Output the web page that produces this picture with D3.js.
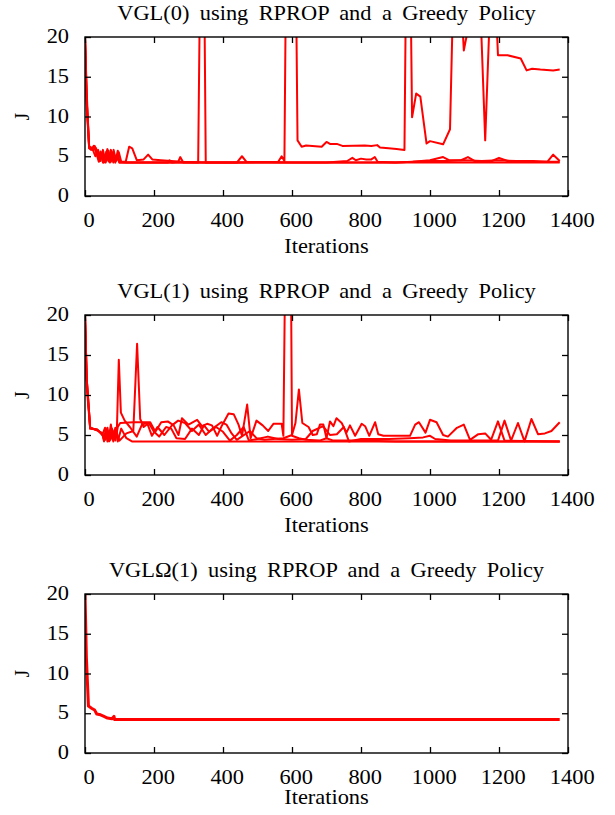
<!DOCTYPE html>
<html>
<head>
<meta charset="utf-8">
<script src="https://cdn.jsdelivr.net/npm/d3@7"></script>
<style>
  body { margin: 0; background: #fff; }
  svg text { font-family: "Liberation Serif", "Times New Roman", serif; fill: #000; }
</style>
</head>
<body>
<svg id="chart" width="615" height="815"></svg>
<script>
// tick values
const xTicks = [0, 200, 400, 600, 800, 1000, 1200, 1400];
const yTicks = [0, 5, 10, 15, 20];
const titles = [
  "VGL(0) using RPROP and a Greedy Policy",
  "VGL(1) using RPROP and a Greedy Policy",
  "VGL\u03A9(1) using RPROP and a Greedy Policy"
];

// VGL(0) runs, [iteration, J]
const vgl0_a = [[0,20],[5,11],[12,6.2],[20,5.9],[28,6.3],[35,5.6],[42,4.5],[50,5.5],[56,4.3],[62,5.6],[70,4.3],[78,5.5],[85,4.4],[92,5.2],[100,4.3],[120,4.2],[200,4.2],[300,4.2],[328,4.2],[333,25],[346,25],[350,4.2],[440,4.2],[455,5.0],[468,4.3],[600,4.2],[800,4.2],[1000,4.2],[1200,4.2],[1376,4.2]];
const vgl0_b = [[0,20],[5,12],[12,6.0],[20,6.1],[30,5.0],[38,5.8],[45,4.4],[52,5.8],[60,4.2],[68,5.7],[75,4.3],[83,5.8],[90,4.4],[98,5.5],[105,4.3],[118,4.3],[128,6.2],[137,6.0],[150,4.5],[170,4.6],[183,5.2],[195,4.6],[220,4.5],[250,4.4],[280,4.3],[350,4.2],[440,4.2],[560,4.3],[570,5.0],[578,4.4],[582,25],[612,25],[616,7.0],[628,6.2],[641,6.35],[686,6.2],[700,6.8],[710,6.55],[730,6.55],[746,6.3],[811,6.35],[830,6.3],[847,6.4],[855,6.1],[880,6.0],[903,5.9],[926,5.8],[930,25],[944,25],[948,9.9],[960,12.9],[972,12.5],[990,6.6],[1000,6.9],[1038,6.5],[1058,8.4],[1067,25],[1090,25],[1098,18.3],[1110,21],[1145,25],[1160,7.0],[1175,25],[1190,25],[1197,17.7],[1225,17.7],[1263,17.3],[1280,15.8],[1296,16.0],[1320,15.9],[1357,15.8],[1376,15.9]];
const vgl0_c = [[0,20],[5,13],[12,6.0],[18,5.8],[25,6.3],[32,5.5],[40,4.3],[48,5.2],[55,4.2],[65,5.9],[72,4.2],[80,5.4],[88,4.2],[95,5.7],[100,4.2],[130,4.2],[240,4.2],[245,4.5],[252,4.2],[270,4.3],[276,4.9],[285,4.2],[500,4.2],[700,4.2],[760,4.4],[775,4.8],[785,4.5],[800,4.7],[815,4.6],[830,4.6],[840,4.9],[848,4.3],[900,4.2],[950,4.3],[1000,4.5],[1038,4.9],[1055,4.5],[1090,4.5],[1110,4.9],[1130,4.4],[1180,4.4],[1200,4.8],[1225,4.4],[1300,4.4],[1340,4.3],[1357,5.2],[1376,4.4]];
const vgl0_d = [[0,20],[5,12],[12,6.3],[22,5.8],[32,6.0],[38,4.8],[45,5.6],[52,4.2],[60,5.3],[68,4.4],[75,5.8],[82,4.2],[90,5.0],[100,4.2],[500,4.2],[900,4.2],[950,4.3],[1000,4.4],[1050,4.4],[1100,4.5],[1150,4.4],[1200,4.5],[1250,4.4],[1300,4.3],[1376,4.3]];

// VGL(1) runs
const vgl1_a = [[0,20],[5,12],[15,5.9],[35,5.6],[50,5.2],[58,4.4],[65,5.9],[72,4.3],[80,5.6],[88,4.3],[95,6.0],[102,6.5],[140,6.6],[189,6.6],[204,5.4],[221,6.6],[240,6.7],[257,6.2],[271,5.0],[281,7.1],[300,6.3],[325,6.9],[339,6.1],[354,6.4],[368,6.2],[383,4.9],[397,6.2],[416,7.7],[431,7.6],[445,6.3],[455,4.9],[470,8.8],[480,4.6],[497,6.8],[515,6.2],[531,5.5],[546,6.4],[570,6.4],[575,4.9],[580,25],[597,25],[600,4.9],[620,4.6],[640,4.4],[680,4.3],[700,4.6],[720,4.3],[760,4.3],[800,4.3],[900,4.2],[1376,4.2]];
const vgl1_b = [[0,20],[5,11],[15,5.8],[35,5.7],[50,5.1],[56,4.3],[62,5.5],[70,4.2],[78,5.8],[85,4.5],[92,5.0],[98,14.4],[104,7.8],[115,6.8],[130,6.0],[150,4.8],[165,6.3],[180,6.5],[194,4.9],[210,6.0],[230,5.0],[252,6.2],[270,6.8],[290,6.5],[310,5.5],[330,6.3],[350,5.0],[370,5.8],[395,6.6],[410,6.3],[425,5.2],[440,4.4],[478,5.5],[497,4.6],[520,4.4],[545,4.5],[575,4.6],[600,5.0],[610,6.5],[620,10.7],[630,6.5],[648,6.0],[660,5.0],[672,5.1],[681,6.3],[691,6.3],[700,4.6],[710,6.7],[720,6.1],[729,7.1],[744,6.5],[758,5.3],[768,6.2],[783,4.9],[802,6.4],[812,6.1],[824,4.9],[841,6.6],[850,5.1],[865,4.9],[942,4.9],[957,6.3],[968,6.6],[987,5.3],[1000,6.9],[1019,6.6],[1038,5.0],[1052,4.8],[1078,5.9],[1098,6.3],[1116,4.4],[1140,5.1],[1160,5.2],[1177,4.4],[1197,6.7],[1216,4.3],[1376,4.2]];
const vgl1_c = [[0,20],[5,12],[15,5.9],[35,5.6],[50,5.2],[55,4.2],[60,5.8],[68,4.4],[75,6.3],[82,4.2],[90,5.5],[100,4.3],[120,5.2],[140,5.5],[151,16.4],[160,7.0],[170,6.0],[185,6.5],[200,5.4],[215,4.8],[235,6.0],[250,5.8],[265,4.6],[290,4.5],[310,5.8],[330,5.0],[345,6.2],[360,5.4],[380,6.0],[400,5.4],[420,4.3],[440,5.0],[460,6.0],[475,4.3],[500,4.5],[530,4.8],[560,4.5],[600,4.4],[640,4.5],[660,5.5],[690,6.1],[710,5.0],[730,5.1],[750,6.0],[765,4.2],[800,4.5],[880,4.5],[940,4.6],[980,4.7],[1000,4.9],[1015,4.5],[1060,4.3],[1197,4.3],[1216,6.8],[1235,4.3],[1255,6.5],[1274,4.2],[1294,7.0],[1313,5.1],[1333,5.2],[1352,5.5],[1376,6.6]];
const vgl1_d = [[0,20],[5,12],[15,5.8],[35,5.7],[50,5.0],[58,5.9],[65,4.2],[72,5.3],[80,4.4],[88,5.9],[95,4.2],[105,5.8],[120,4.6],[136,4.2],[600,4.2],[1000,4.2],[1376,4.2]];

// VGLΩ(1) runs
const vglw1_a = [[0,20],[4,12],[10,5.9],[20,5.6],[28,5.4],[34,4.9],[45,4.8],[55,4.6],[65,4.4],[78,4.3],[84,4.6],[86,4.2],[150,4.2],[600,4.2],[1000,4.2],[1376,4.2]];

const panels = [
  { title: titles[0], top: 37, bottom: 196, runs: [vgl0_d, vgl0_c, vgl0_a, vgl0_b], lw: 2, xlab: 57 },
  { title: titles[1], top: 315, bottom: 475, runs: [vgl1_d, vgl1_c, vgl1_b, vgl1_a], lw: 2, xlab: 57 },
  { title: titles[2], top: 594, bottom: 753, runs: [vglw1_a], lw: 3, xlab: 51 }
];

const svg = d3.select("#chart");
const left = 85, right = 568;
const stretch = 1.12;

const x = d3.scaleLinear().domain([0, 1400]).range([left, right]);

panels.forEach((p, i) => {
  const y = d3.scaleLinear().domain([0, 20]).range([p.bottom, p.top]);
  const g = svg.append("g");

  g.append("clipPath").attr("id", `clip${i}`)
    .append("rect")
    .attr("x", left).attr("y", p.top)
    .attr("width", right - left).attr("height", p.bottom - p.top);

  const line = d3.line().x(d => x(d[0])).y(d => y(d[1]));

  g.append("g").attr("clip-path", `url(#clip${i})`)
    .selectAll("path")
    .data(p.runs)
    .join("path")
    .attr("d", line)
    .attr("fill", "none")
    .attr("stroke", "#ff0000")
    .attr("stroke-width", p.lw)
    .attr("stroke-linejoin", "round");

  // axes, ticks pointing inward on all sides
  const bottomAxis = g.append("g").attr("transform", `translate(0,${p.bottom})`)
    .call(d3.axisBottom(x).tickValues(xTicks).tickFormat(d3.format("d")).tickSize(-6).tickSizeOuter(0));
  bottomAxis.selectAll("text")
    .attr("y", 31).attr("dy", 0)
    .attr("font-size", 20)
    .attr("transform", `scale(${stretch},1)`)
    .attr("x", 3.7 / stretch);

  g.append("g").attr("transform", `translate(0,${p.top})`)
    .call(d3.axisTop(x).tickValues(xTicks).tickSize(-6).tickSizeOuter(0).tickFormat(""));

  const leftAxis = g.append("g").attr("transform", `translate(${left},0)`)
    .call(d3.axisLeft(y).tickValues(yTicks).tickSize(-6).tickSizeOuter(0));
  leftAxis.selectAll("text")
    .attr("x", -16 / stretch).attr("dy", 0).attr("y", 5.5)
    .attr("font-size", 20)
    .attr("transform", `scale(${stretch},1)`);

  g.append("g").attr("transform", `translate(${right},0)`)
    .call(d3.axisRight(y).tickValues(yTicks).tickSize(-6).tickSizeOuter(0).tickFormat(""));

  g.selectAll(".domain").remove();
  g.selectAll(".tick line").attr("stroke", "#000").attr("stroke-width", 1.3);

  g.append("rect")
    .attr("x", left).attr("y", p.top)
    .attr("width", right - left).attr("height", p.bottom - p.top)
    .attr("fill", "none").attr("stroke", "#000").attr("stroke-width", 1.4);

  g.append("text")
    .attr("transform", `translate(${(left + right) / 2},${p.top - 17.5}) scale(${stretch},1)`)
    .attr("text-anchor", "middle").attr("font-size", 20)
    .style("word-spacing", "4.3px")
    .text(p.title);

  g.append("text")
    .attr("transform", `translate(${(left + right) / 2},${p.bottom + p.xlab}) scale(${stretch},1)`)
    .attr("text-anchor", "middle").attr("font-size", 20)
    .text("Iterations");

  g.append("text")
    .attr("transform", `translate(29,${(p.top + p.bottom) / 2}) rotate(-90)`)
    .attr("text-anchor", "middle").attr("font-size", 20)
    .text("J");
});
</script>
</body>
</html>
